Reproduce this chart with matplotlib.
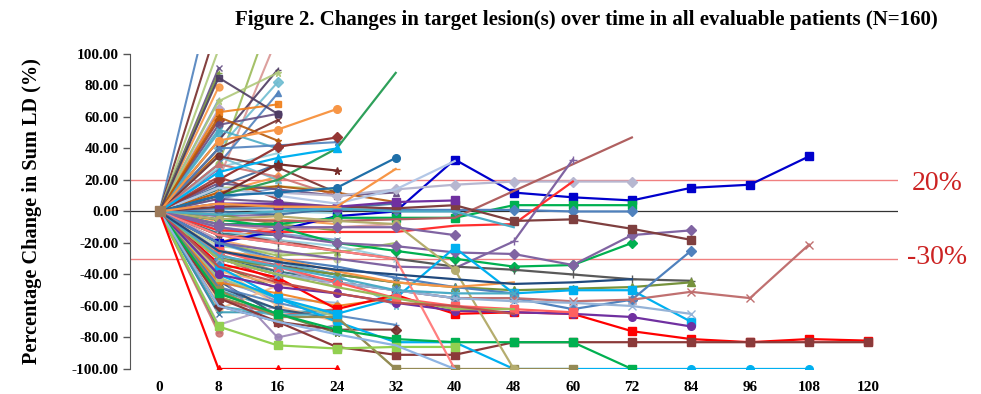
import numpy as np
import matplotlib
matplotlib.use("Agg")
import matplotlib.pyplot as plt

# Visit weeks (category axis)
weeks = ["0", "8", "16", "24", "32", "40", "48", "60", "72", "84", "96", "108", "120"]

# Individually styled patients (% change in sum LD per visit)
key_patients = [
    [0, -20, -12, -3, 0, 33, 12, 9, 7, 15, 17, 35],
    [0, -33, -42, -62, -53, -65, -64, -65, -76, -81, -83, -81, -82],
    [0, -55, -70, -86, -91, -91, -83, -83, -83, -83, -83, -83, -83],
    [0, -40, -55, -70, -83, -83, -100, -100, -100, -100, -100, -100],
    [0, -50, -67, -67, -100, -100, -100, -100],
    [0, -8, -8, -4, -4, -4, 4, 4, 4],
    [0, 2, 2, 1, 1, 1, 1, 0, 0],
    [0, 10, 12, 10, 14, 17, 19, 19, 19],
    [0, -5, -6, -6, -5, -4, 13, 30, 47],
    [0, -20, -25, -30, -35, -36, -19, 33],
    [0, -12, -13, -13, -13, -9, -8, 19],
    [0, -5, -10, -20, -25, -30, -35, -34, -20],
    [0, -10, -15, -20, -22, -26, -27, -34, -15, -12],
    [0, 3, 4, 3, 2, 4, -6, -5, -11, -18],
    [0, -15, -20, -25, -30, -35, -37, -40, -43, -44],
    [0, -30, -35, -40, -45, -48, -50, -49, -48, -45],
    [0, -35, -55, -65, -55, -23, -52, -50, -50, -70],
    [0, -30, -40, -45, -50, -55, -55, -62, -56, -25],
    [0, -40, -48, -52, -58, -63, -64, -65, -67, -73],
    [0, -30, -40, -45, -50, -55, -55, -57, -56, -51, -55, -21],
    [0, -52, -65, -75, -81, -83, -83, -83, -100],
    [0, -73, -85, -87, -86, -86],
    [0, 5, 5, 3, 6, 7],
    [0, 15, 10, 5, 14, 32],
    [0, -5, -3, -6, -8, -37, -100],
    [0, -8, -10, -10, -10, -15],
    [0, -2, 0, 2, 0, 0, -10],
    [0, -30, -40, -45, -50, -55, -57, -58, -60, -65],
    [0, -25, -35, -45, -55, -60, -62, -64],
    [0, -15, -20, -25, -30, -100],
    [0, -60, -70, -78, -85, -100],
    [0, -20, -30, -35, -42, -48, -52],
    [0, -25, -30, -38, -45, -48, -45],
    [0, -30, -40, -48, -55, -62, -62],
    [0, -35, -45, -52, -58, -60, -65],
    [0, -28, -35, -42, -50, -52, -52],
    [0, -25, -32, -37, -40, -43, -46, -45, -43],
    [0, 10, 20, 40, 88],
    [0, 45, 52, 65],
    [0, 20, 41, 47],
    [0, 25, 34, 40],
    [0, 10, 30, 26],
    [0, -100, -100, -100],
    [0, 10, 12, 15, 34],
    [0, 5, 3, 3, 27],
]
key_colors = ["#0000CC", "#FF0000", "#8B3A3A", "#00B0F0", "#948A54", "#00B050",
              "#4F81BD", "#B7B7D0", "#B06060", "#8064A2", "#FF3030", "#00B050",
              "#8064A2", "#7F3F3F", "#595959", "#76923C", "#00B0F0", "#4F81BD",
              "#7030A0", "#C07070", "#00B050", "#92D050", "#7030A0", "#B3C7E6",
              "#B5AD6E", "#8064A2", "#4BACC6", "#95B3D7", "#FF6060", "#FF7F7F",
              "#8EB4E3", "#4F81BD", "#F79646", "#9BBB59", "#C0504D", "#4BACC6",
              "#1F497D", "#2EA05A", "#F79646", "#953735", "#00B0F0", "#772C2A",
              "#FF0000", "#1F6FA8", "#F79646"]
key_markers = ["s", "s", "s", "o", "s", "s", "D", "D", "", "+", "", "D",
               "D", "s", "+", "^", "s", "D", "o", "x", "s", "s", "s", "",
               "o", "D", "", "x", "s", "", "", "+", "", "", "", "x", "",
               "", "o", "D", "^", "*", "^", "o", "_"]

# Patients off study by week 32
to_week32 = [
    [0, 12, 16, 12, 6], [0, 0, -2, 2, 5], [0, -8, -12, -10, -8],
    [0, -20, -28, -26, -20], [0, -30, -34, -40, -45], [0, -20, -32, -40, -60],
    [0, -45, -52, -60, -55], [0, -48, -58, -66, -72], [0, -60, -70, -75, -75],
    [0, -42, -55, -67, -100], [0, 18, 14, 10, 12], [0, -12, -18, -22, -30],
]

# Patients off study by week 24
to_week24 = [
    [0, 40, 42, 44], [0, 35, 28, 12], [0, 15, 16, 14], [0, 8, 6, 3],
    [0, 2, 0, -1], [0, -6, -5, -8], [0, -10, -14, -18], [0, -15, -18, -25],
    [0, -22, -26, -30], [0, -25, -32, -40], [0, -30, -38, -44], [0, -38, -46, -52],
    [0, -44, -55, -58], [0, -55, -66, -62], [0, -52, -65, -77],
    [0, -40, -80, -72], [0, -64, -64, -63], [0, -35, -60, -70], [0, -48, -62, -68],
    [0, 30, 22, 10], [0, -2, -8, -12], [0, -18, -35, -48], [0, -60, -66, -65],
]

# Patients off study by week 16
to_week16 = [
    [0, 20, 111], [0, 30, 136], [0, 45, 90], [0, 40, 82], [0, 63, 68],
    [0, 30, 75], [0, 40, 58], [0, 70, 88], [0, 55, 62], [0, 28, 37],
    [0, 12, 22], [0, 8, 15], [0, 22, 8], [0, 5, 2], [0, -3, -2],
    [0, -14, -15], [0, -18, -26], [0, -24, -35], [0, -29, -44], [0, -34, -49],
    [0, -42, -57], [0, -50, -62], [0, -62, -47], [0, -44, -66], [0, -27, -38],
    [0, -54, -66], [0, -72, -60], [0, 52, 40], [0, 60, 45], [0, 16, 30],
    [0, -10, -20], [0, -37, -30], [0, 85, 62], [0, 35, 20], [0, -20, -8],
]

# Patients with only the week 8 assessment
to_week8 = [
    [0, 155], [0, 120], [0, 103], [0, 91], [0, 86], [0, 79], [0, 71],
    [0, 58], [0, 45], [0, 27], [0, 14], [0, -2], [0, -12], [0, -25],
    [0, -36], [0, -47], [0, -52], [0, -58], [0, -75], [0, -77],
    [0, 88], [0, 65], [0, 50], [0, 37], [0, -65],
]

palette = ["#4F81BD", "#C0504D", "#9BBB59", "#8064A2", "#4BACC6", "#F79646",
           "#2C4D75", "#772C2A", "#5F7530", "#4D3B62", "#276A7C", "#B65708",
           "#729ACA", "#CD7371", "#AFC97A", "#9983B5", "#6FBDD1", "#F9AB6B",
           "#3A6799", "#9B3B38", "#7B9A3E", "#644D82", "#339AB4", "#F07E19",
           "#95B3D7", "#D99694", "#C3D69B", "#B3A2C7", "#93CDDD", "#FAC090"]
marker_cycle = ["D", "s", "^", "x", "*", "o", "+"]

serif = ["Liberation Serif", "DejaVu Serif"]

fig = plt.figure(figsize=(9.81, 3.94), dpi=100)
ax = fig.add_axes([0.1325, 0.0635, 0.7825, 0.7995])

# Short follow-up first so the styled lines sit on top
short = to_week8 + to_week16 + to_week24 + to_week32
for i, vals in enumerate(short):
    c = palette[(i * 7) % len(palette)]
    m = marker_cycle[i % len(marker_cycle)]
    ax.plot(range(len(vals)), vals, color=c, lw=1.5, marker=m, ms=5,
            mec=c, mfc=c, alpha=0.9, zorder=2)

for vals, c, m in zip(key_patients, key_colors, key_markers):
    ax.plot(range(len(vals)), vals, color=c, lw=1.6, marker=m if m else None,
            ms=5.5, mec=c, mfc=c, zorder=3)

# Baseline marker
ax.plot([0], [0], marker="s", ms=7, color="#9C7A5A", zorder=4)

# Zero line and response thresholds
ax.axhline(0, color="#333333", lw=0.9, zorder=1)
ax.axhline(20, color="#F08080", lw=1.0, zorder=1)
ax.axhline(-30, color="#F08080", lw=1.0, zorder=1)

ax.set_xlim(-0.5, len(weeks) - 0.5)
ax.set_ylim(-100, 100)
ax.set_xticks(range(len(weeks)))
ax.set_xticklabels(weeks, fontfamily=serif, fontweight="bold", fontsize=11)
yt = np.arange(-100, 101, 20)
ax.set_yticks(yt)
ax.set_yticklabels(["%.2f" % v for v in yt], fontfamily=serif, fontweight="bold", fontsize=11)
ax.tick_params(axis="x", length=0, pad=9)
ax.tick_params(axis="y", length=5, color="#555555", width=1, pad=3)
for s in ["top", "right", "bottom"]:
    ax.spines[s].set_visible(False)
ax.spines["left"].set_color("#555555")

fig.text(32 / 981, 1 - 211 / 394, "Percentage Change in Sum LD (%)", rotation=90,
         ha="center", va="center", fontfamily=serif, fontweight="bold", fontsize=14.6)

fig.text(0.598, 0.948, "Figure 2. Changes in target lesion(s) over time in all evaluable patients (N=160)",
         ha="center", va="center", fontfamily=serif, fontweight="bold", fontsize=15)

fig.text(937 / 981, 1 - 183 / 394, "20%", color="#CC2222", fontfamily=serif, fontsize=20,
         ha="center", va="center")
fig.text(937 / 981, 1 - 258 / 394, "-30%", color="#CC2222", fontfamily=serif, fontsize=20,
         ha="center", va="center")

fig.savefig("out.png", dpi=100)
